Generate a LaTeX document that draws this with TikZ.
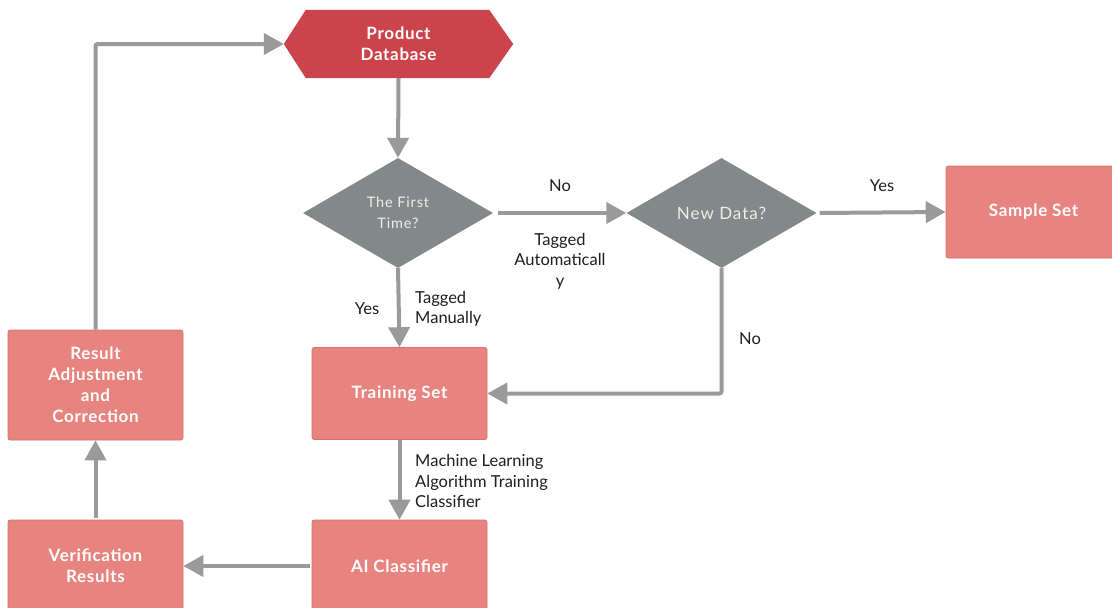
\documentclass[tikz,border=0pt]{standalone}
\usepackage{fontspec}
\setmainfont{Lato}
\usetikzlibrary{arrows.meta,shapes.geometric,calc}
\definecolor{dbred}{HTML}{CC444B}
\definecolor{boxpink}{HTML}{E88480}
\definecolor{boxedge}{HTML}{D5716D}
\definecolor{diagray}{HTML}{838888}
\definecolor{arrowgray}{HTML}{9A9A9A}
\definecolor{labelink}{HTML}{1E1E1E}
\definecolor{diatext}{HTML}{EEEEEE}

\begin{document}
\begin{tikzpicture}[x=1pt,y=-1pt,
  boxfont/.style={font=\bfseries\fontsize{17}{21}\selectfont\addfontfeature{LetterSpace=4}},
  box/.style={rectangle, rounded corners=2pt, fill=boxpink, draw=boxedge,
    line width=0.6pt, minimum width=175pt, inner sep=0pt, text=white,
    align=center, boxfont},
  decision/.style={diamond, fill=diagray, minimum width=190pt,
    minimum height=110pt, inner sep=0pt, text=diatext, align=center,
    font=\fontsize{14.5}{21}\selectfont\addfontfeature{LetterSpace=6}},
  flow/.style={draw=arrowgray, line width=4pt, rounded corners=2pt,
    -{Triangle[length=20pt,width=21pt]}},
  lbl/.style={text=labelink, inner sep=0pt,
    font=\fontsize{16.5}{20.5}\selectfont}
]
\useasboundingbox (0,0) rectangle (1112,608);
\clip (0,0) rectangle (1112,608);

% product database (hexagon drawn around a plain text node)
\node[rectangle, minimum width=229pt, minimum height=68pt, inner sep=0pt]
  (db) at (398.5,44) {};
\fill[dbred] (db.west) -- ($(db.north west)+(22,0)$) -- ($(db.north east)+(-24,0)$)
  -- (db.east) -- ($(db.south east)+(-24,0)$) -- ($(db.south west)+(22,0)$) -- cycle;
\node[text=white, align=center, boxfont] at (db.center) {Product\\Database};

% decisions
\node[decision] (first) at (398,213) {The First\\Time?};
\node[decision, font=\fontsize{17}{21}\selectfont\addfontfeature{LetterSpace=6}]
  (newdata) at (721.5,213) {New Data?};

% process boxes
\node[box, minimum height=92pt]  (sample) at (1033.5,212) {Sample Set};
\node[box, minimum height=92pt]  (train)  at (399.5,393.5) {Training Set};
\node[box, minimum height=110pt] (result) at (95.5,385) {Result\\Adjustment\\and\\Correction};
\node[box, minimum height=92pt]  (ai)     at (399.5,566) {AI Classifier};
\node[box, minimum height=92pt]  (verify) at (95.5,566) {Verification\\Results};

% connectors
\draw[flow] (db.south) -- (first.north);
\draw[flow, shorten <=5pt] (first.east) -- (newdata.west);
\draw[flow, shorten <=3pt] (newdata.east) -- (sample.west);
\draw[flow] (newdata.south) |- (train.east);
\draw[flow] (first.south) -- (train.north);
\draw[flow] (train.south) -- (ai.north);
\draw[flow, shorten <=2pt] (ai.west) -- (verify.east);
\draw[flow, shorten <=2pt] (verify.north) -- (result.south);
\draw[flow] (result.north) |- (db.west);

% connector labels
\node[lbl] (lno1) at (560,186) {No};
\node[lbl, align=center] (lauto) at (560,261) {Tagged\\Automaticall\\y};
\node[lbl] (lyes1) at (882,186) {Yes};
\node[lbl] (lno2) at (750,339) {No};
\node[lbl] (lyes2) at (367,309) {Yes};
\node[lbl, anchor=west, align=left] (lman) at (415,309) {Tagged\\Manually};
\node[lbl, anchor=west, align=left] (lml) at (415,481)
  {Machine Learning\\Algorithm Training\\Classifier};
\end{tikzpicture}
\end{document}
